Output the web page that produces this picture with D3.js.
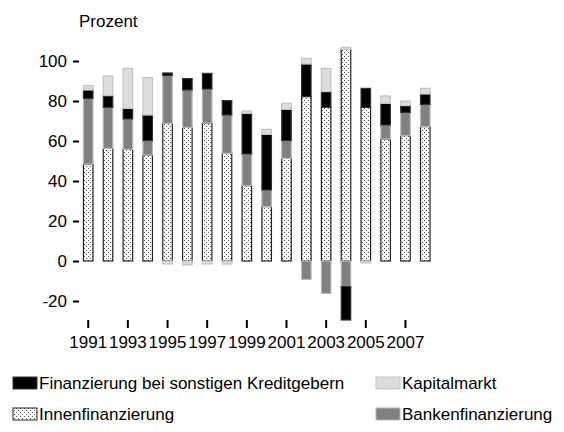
<!DOCTYPE html>
<html>
<head>
<meta charset="utf-8">
<script src="https://cdn.jsdelivr.net/npm/d3@7"></script>
<style>
  html, body { margin: 0; padding: 0; background: #fff; }
  svg { display: block; font-family: "Liberation Sans", Arial, sans-serif; }
</style>
</head>
<body>
<div id="chart"></div>
<script>
// Finanzierungsstruktur, Anteile in Prozent
const years = [1991, 1992, 1993, 1994, 1995, 1996, 1997, 1998, 1999, 2000,
               2001, 2002, 2003, 2004, 2005, 2006, 2007, 2008];
const innen   = [48.5, 56.3, 55.8, 53.0, 68.8, 66.8, 69.0, 53.8, 37.7, 27.2, 51.3, 82.2, 76.8, 105.8, 76.8, 61.0, 62.7, 67.2];
const banken  = [32.8, 20.5, 15.2, 7.2, 24.0, 18.7, 17.0, 19.2, 15.8, 8.3, 8.9, -9.2, -16.2, -12.8, 0, 7.0, 11.6, 11.1];
const sonst   = [4.2, 5.9, 5.3, 12.8, 1.2, 5.7, 7.8, 7.2, 20.3, 27.8, 15.6, 16.3, 7.9, -16.7, 9.5, 10.8, 3.4, 5.2];
const kapital = [2.2, 9.8, 20.0, 18.7, -1.5, -2.0, -1.5, -1.5, 1.2, 2.5, 3.0, 2.8, 11.6, 1.0, -1.0, 3.7, 2.3, 2.8];
const yTicks = [-20, 0, 20, 40, 60, 80, 100];
const xTickYears = [1991, 1993, 1995, 1997, 1999, 2001, 2003, 2005, 2007];

const series = [
  { key: 'innen',   label: 'Innenfinanzierung', values: innen,   fill: 'url(#dots)', stroke: '#222' },
  { key: 'banken',  label: 'Bankenfinanzierung', values: banken,  fill: '#808080', stroke: '#b8b8b8' },
  { key: 'sonst',   label: 'Finanzierung bei sonstigen Kreditgebern', values: sonst, fill: '#000000', stroke: '#333' },
  { key: 'kapital', label: 'Kapitalmarkt', values: kapital, fill: '#dcdcdc', stroke: '#c4c4c4' }
];

const width = 564, height = 432;

const svg = d3.select('#chart').append('svg')
  .attr('width', width)
  .attr('height', height);

// dotted fill pattern
const pat = svg.append('defs').append('pattern')
  .attr('id', 'dots')
  .attr('patternUnits', 'userSpaceOnUse')
  .attr('width', 4).attr('height', 4);
pat.append('rect').attr('width', 4).attr('height', 4).attr('fill', '#fff');
pat.append('rect').attr('x', 0).attr('y', 0).attr('width', 1).attr('height', 1).attr('fill', '#555');
pat.append('rect').attr('x', 2).attr('y', 2).attr('width', 1).attr('height', 1).attr('fill', '#555');

const x = d3.scaleBand()
  .domain(years)
  .range([78.3, 435.2])
  .paddingInner(0.47)
  .paddingOuter(0.235);

const y = d3.scaleLinear()
  .domain([-20, 100])
  .range([301, 61]);

// stacked data
const rows = years.map((yr, i) => {
  const r = { year: yr };
  series.forEach(s => { r[s.key] = s.values[i]; });
  return r;
});

const stack = d3.stack()
  .keys(series.map(s => s.key))
  .offset(d3.stackOffsetDiverging);
const stacked = stack(rows);

stacked.forEach((layer, li) => {
  const s = series[li];
  svg.append('g')
    .selectAll('rect')
    .data(layer.filter(d => d[1] !== d[0]))
    .enter()
    .append('rect')
    .attr('x', d => x(d.data.year) + 0.5)
    .attr('width', x.bandwidth() - 1)
    .attr('y', d => y(Math.max(d[0], d[1])))
    .attr('height', d => Math.abs(y(d[0]) - y(d[1])))
    .attr('fill', s.fill)
    .attr('stroke', s.stroke)
    .attr('stroke-width', 1.2);
});

// y axis
const yAxis = d3.axisLeft(y)
  .tickValues(yTicks)
  .tickSize(6)
  .tickPadding(6)
  .tickFormat(d => String(d));
const gy = svg.append('g')
  .attr('transform', 'translate(79,0)')
  .call(yAxis);
gy.select('.domain').remove();
gy.selectAll('line').attr('stroke', '#000').attr('stroke-width', 2);
gy.selectAll('text').attr('font-size', 17).attr('fill', '#000')
  .attr('font-family', '"Liberation Sans", Arial, sans-serif');

// x axis
const xAxis = d3.axisBottom(x)
  .tickValues(xTickYears)
  .tickSize(8)
  .tickPadding(8);
const gx = svg.append('g')
  .attr('transform', 'translate(0,320)')
  .call(xAxis);
gx.select('.domain').remove();
gx.selectAll('line').attr('stroke', '#000').attr('stroke-width', 2);
gx.selectAll('text').attr('font-size', 17).attr('fill', '#000')
  .attr('font-family', '"Liberation Sans", Arial, sans-serif');

// unit label
svg.append('text')
  .attr('x', 79).attr('y', 27)
  .attr('font-size', 17)
  .text('Prozent');

// legend
const legendItems = [
  { s: series[2], x: 13, y: 383 },
  { s: series[3], x: 376, y: 383 },
  { s: series[0], x: 13, y: 414 },
  { s: series[1], x: 376, y: 414 }
];
const lg = svg.append('g');
legendItems.forEach(it => {
  lg.append('rect')
    .attr('x', it.x).attr('y', it.y - 6)
    .attr('width', 24).attr('height', 12)
    .attr('fill', it.s.fill)
    .attr('stroke', it.s.stroke)
    .attr('stroke-width', 1);
  lg.append('text')
    .attr('x', it.x + 26).attr('y', it.y)
    .attr('dy', '0.35em')
    .attr('font-size', 17)
    .text(it.s.label);
});
</script>
</body>
</html>
